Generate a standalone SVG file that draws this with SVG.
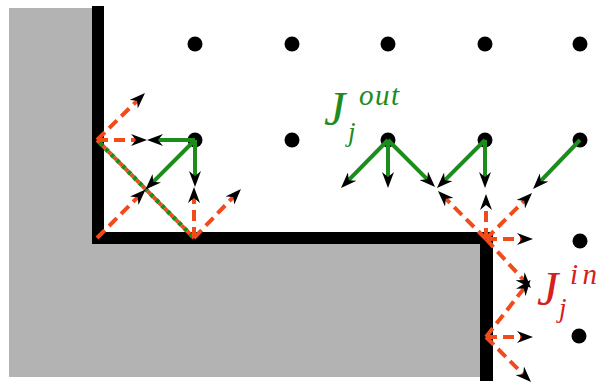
<svg xmlns="http://www.w3.org/2000/svg" width="603" height="385" viewBox="0 0 603 385">
<style>
.dot{fill:#000}
.g{stroke:#1c8c1c;stroke-width:4;fill:none;marker-end:url(#ah)}
.r{stroke:#f24a1a;stroke-width:4;fill:none;stroke-dasharray:11 6;marker-end:url(#ah)}
.lbl{font-family:"Liberation Serif",serif;font-style:italic}
</style>
<defs>
<marker id="ah" markerUnits="userSpaceOnUse" markerWidth="16" markerHeight="12" refX="10" refY="6" orient="auto">
<path d="M0,0 L16,6 L0,12 L5,6 Z" fill="#000"/>
</marker>
</defs>
<rect width="603" height="385" fill="#fff"/>
<g id="solid">
<polygon points="9,8 92,8 92,244 480,244 480,377 9,377" fill="#b3b3b3"/>
<rect x="92" y="6" width="12" height="238" fill="#000"/>
<rect x="92" y="232" width="401" height="12" fill="#000"/>
<rect x="480" y="232" width="13" height="149" fill="#000"/>
</g>
<g id="dots">
<g id="d11"><circle class="dot" cx="195" cy="44" r="7.5"/></g>
<g id="d12"><circle class="dot" cx="292" cy="44" r="7.5"/></g>
<g id="d13"><circle class="dot" cx="388" cy="44" r="7.5"/></g>
<g id="d14"><circle class="dot" cx="485" cy="44" r="7.5"/></g>
<g id="d15"><circle class="dot" cx="580" cy="44" r="7.5"/></g>
<g id="d21"><circle class="dot" cx="195" cy="140" r="7.5"/></g>
<g id="d22"><circle class="dot" cx="292" cy="140" r="7.5"/></g>
<g id="d23"><circle class="dot" cx="388" cy="140" r="7.5"/></g>
<g id="d24"><circle class="dot" cx="485" cy="140" r="7.5"/></g>
<g id="d25"><circle class="dot" cx="580" cy="140" r="7.5"/></g>
<g id="d35"><circle class="dot" cx="580" cy="241" r="7.5"/></g>
<g id="d45"><circle class="dot" cx="579" cy="336" r="7.5"/></g>
</g>
<g id="connectors">
<line x1="97" y1="140" x2="194" y2="238" stroke="#f24a1a" stroke-width="4" stroke-dasharray="4 4"/>
<line x1="97" y1="140" x2="194" y2="238" stroke="#1c8c1c" stroke-width="4.5" stroke-dasharray="4 4" stroke-dashoffset="4"/>
<line class="g" x1="195" y1="140" x2="153" y2="140"/>
<line class="g" x1="195" y1="140" x2="195" y2="181"/>
<line class="g" x1="195" y1="140" x2="149.7" y2="185.3"/>
<line class="r" x1="97" y1="140" x2="141" y2="140"/>
<line class="r" x1="97" y1="140" x2="140.7" y2="97.2"/>
<line class="r" x1="97" y1="238" x2="141.3" y2="193.7"/>
<line class="r" x1="194" y1="238" x2="194" y2="193"/>
<line class="r" x1="194" y1="238" x2="236.8" y2="193.3"/>
<line class="g" x1="388" y1="140" x2="345.2" y2="183.7"/>
<line class="g" x1="388" y1="140" x2="388" y2="182"/>
<line class="g" x1="388" y1="140" x2="430.8" y2="182.8"/>
<line class="g" x1="485" y1="140" x2="441.2" y2="183.8"/>
<line class="g" x1="485" y1="140" x2="485" y2="182"/>
<line class="g" x1="580" y1="140" x2="537.2" y2="184.7"/>
<line class="r" x1="486" y1="239" x2="442.2" y2="195.2"/>
<line class="r" x1="486" y1="239" x2="486" y2="200"/>
<line class="r" x1="486" y1="239" x2="527.8" y2="197.2"/>
<line class="r" x1="486" y1="239" x2="527" y2="239"/>
<line class="r" x1="486" y1="239" x2="526.9" y2="283.6"/>
<line class="r" x1="486" y1="337" x2="526.9" y2="284.6"/>
<line class="r" x1="486" y1="337" x2="527" y2="337"/>
<line class="r" x1="486" y1="337" x2="526.8" y2="377.8"/>
</g>
<g id="label-out" class="lbl" fill="#1c8c1c">
<text x="324" y="125" font-size="48">J</text>
<text x="359" y="105" font-size="29" textLength="40">out</text>
<text x="348" y="141" font-size="27">j</text>
</g>
<g id="label-in" class="lbl" fill="#d42020">
<text x="537" y="305" font-size="48">J</text>
<text x="570" y="284" font-size="29" textLength="27">in</text>
<text x="559" y="317" font-size="27">j</text>
</g>
</svg>
